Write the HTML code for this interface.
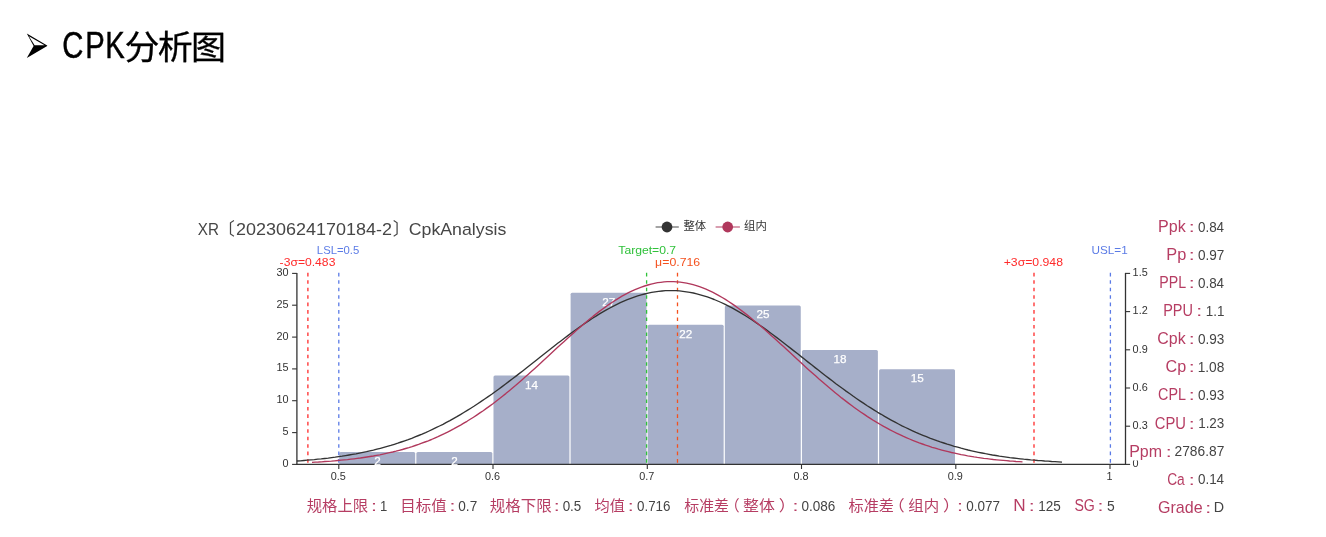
<!DOCTYPE html>
<html lang="zh-CN"><head><meta charset="utf-8"><title>CPK分析图</title>
<style>html,body{margin:0;padding:0;background:#fff;}body{width:1326px;height:537px;overflow:hidden;position:relative;font-family:"Liberation Sans", "Noto Sans CJK SC", sans-serif;}svg{display:block;position:absolute;left:0;top:0;}text{font-family:"Liberation Sans", "Noto Sans CJK SC", sans-serif;}</style></head><body>
<svg width="1326" height="537" viewBox="0 0 1326 537">
<rect width="1326" height="537" fill="#fff"/>
<g id="heading">
<path d="M26.8 33.6 L47.2 45.4 L47.2 46 L26.8 58 L33.6 45.9 Z" fill="#000"/>
<path d="M28.9 36.3 L44.6 45.3 L34.6 45.3 Z" fill="#fff"/>
<g transform="translate(62.2,0) scale(0.805,1)"><text y="58" font-size="36.3" fill="#000" stroke="#000" stroke-width="0.45" x="0 28.6 53.4">CPK</text></g>
<g transform="translate(124.6,0) scale(1.075,1)"><text x="0" y="58.6" font-size="32.6" fill="#000" stroke="#000" stroke-width="0.3" textLength="94.4" lengthAdjust="spacing">分析图</text></g>
</g>
<g id="legend">
<line x1="655.6" y1="227" x2="678.8" y2="227" stroke="#333" stroke-opacity="0.6" stroke-width="1.5"/><circle cx="667" cy="227" r="5.4" fill="#333"/>
<line x1="715.6" y1="227" x2="739.9" y2="227" stroke="#b0385c" stroke-opacity="0.65" stroke-width="1.5"/><circle cx="727.7" cy="227" r="5.4" fill="#b0385c"/>
</g>
<g id="bars" fill="#a6afc9">
<path d="M339.25 464.40 L339.25 453.47 Q339.25 451.97 340.75 451.97 L413.67 451.97 Q415.17 451.97 415.17 453.47 L415.17 464.40 Z"/>
<path d="M416.37 464.40 L416.37 453.47 Q416.37 451.97 417.87 451.97 L490.79 451.97 Q492.29 451.97 492.29 453.47 L492.29 464.40 Z"/>
<path d="M493.49 464.40 L493.49 377.07 Q493.49 375.57 494.99 375.57 L567.91 375.57 Q569.41 375.57 569.41 377.07 L569.41 464.40 Z"/>
<path d="M570.61 464.40 L570.61 294.30 Q570.61 292.80 572.11 292.80 L645.03 292.80 Q646.53 292.80 646.53 294.30 L646.53 464.40 Z"/>
<path d="M647.73 464.40 L647.73 326.13 Q647.73 324.63 649.23 324.63 L722.15 324.63 Q723.65 324.63 723.65 326.13 L723.65 464.40 Z"/>
<path d="M724.85 464.40 L724.85 307.03 Q724.85 305.53 726.35 305.53 L799.27 305.53 Q800.77 305.53 800.77 307.03 L800.77 464.40 Z"/>
<path d="M801.97 464.40 L801.97 351.60 Q801.97 350.10 803.47 350.10 L876.39 350.10 Q877.89 350.10 877.89 351.60 L877.89 464.40 Z"/>
<path d="M879.09 464.40 L879.09 370.70 Q879.09 369.20 880.59 369.20 L953.51 369.20 Q955.01 369.20 955.01 370.70 L955.01 464.40 Z"/>
</g>
<g id="axes" stroke="#333" fill="none">
<line x1="296.9" y1="272.9" x2="296.9" y2="465.0" stroke-width="1.3"/>
<line x1="1125.5" y1="272.9" x2="1125.5" y2="465.0" stroke-width="1.3"/>
<line x1="296.3" y1="464.4" x2="1126.1" y2="464.4" stroke-width="1.3"/>
<line x1="292.1" y1="464.4" x2="296.9" y2="464.4" stroke-width="1.1"/>
<line x1="292.1" y1="432.6" x2="296.9" y2="432.6" stroke-width="1.1"/>
<line x1="292.1" y1="400.7" x2="296.9" y2="400.7" stroke-width="1.1"/>
<line x1="292.1" y1="368.9" x2="296.9" y2="368.9" stroke-width="1.1"/>
<line x1="292.1" y1="337.1" x2="296.9" y2="337.1" stroke-width="1.1"/>
<line x1="292.1" y1="305.2" x2="296.9" y2="305.2" stroke-width="1.1"/>
<line x1="292.1" y1="273.4" x2="296.9" y2="273.4" stroke-width="1.1"/>
<line x1="1125.5" y1="464.4" x2="1130.1" y2="464.4" stroke-width="1.1"/>
<line x1="1125.5" y1="426.2" x2="1130.1" y2="426.2" stroke-width="1.1"/>
<line x1="1125.5" y1="388.0" x2="1130.1" y2="388.0" stroke-width="1.1"/>
<line x1="1125.5" y1="349.8" x2="1130.1" y2="349.8" stroke-width="1.1"/>
<line x1="1125.5" y1="311.6" x2="1130.1" y2="311.6" stroke-width="1.1"/>
<line x1="1125.5" y1="273.4" x2="1130.1" y2="273.4" stroke-width="1.1"/>
<line x1="338.8" y1="464.4" x2="338.8" y2="469.0" stroke-width="1.1"/>
<line x1="493.0" y1="464.4" x2="493.0" y2="469.0" stroke-width="1.1"/>
<line x1="647.3" y1="464.4" x2="647.3" y2="469.0" stroke-width="1.1"/>
<line x1="801.5" y1="464.4" x2="801.5" y2="469.0" stroke-width="1.1"/>
<line x1="955.8" y1="464.4" x2="955.8" y2="469.0" stroke-width="1.1"/>
<line x1="1110.0" y1="464.4" x2="1110.0" y2="469.0" stroke-width="1.1"/>
</g>
<g id="barlabels" fill="#fff" stroke="#fff" stroke-width="0.25" font-size="11.7" text-anchor="middle">
<text x="377.4" y="464.9">2</text>
<text x="454.5" y="464.9">2</text>
<text x="531.6" y="388.5">14</text>
<text x="608.7" y="305.7">27</text>
<text x="685.8" y="337.5">22</text>
<text x="763.0" y="318.4">25</text>
<text x="840.1" y="363.0">18</text>
<text x="917.2" y="382.1">15</text>
</g>
<line x1="307.9" y1="272.8" x2="307.9" y2="464.4" stroke="#ff2a2a" stroke-width="1.3" stroke-dasharray="3.6 3.85"/>
<line x1="338.8" y1="272.8" x2="338.8" y2="464.4" stroke="#5b7be6" stroke-width="1.3" stroke-dasharray="3.6 3.85"/>
<line x1="646.6" y1="272.8" x2="646.6" y2="464.4" stroke="#2fc13a" stroke-width="1.3" stroke-dasharray="3.6 3.85"/>
<line x1="677.5" y1="272.8" x2="677.5" y2="464.4" stroke="#f4511e" stroke-width="1.3" stroke-dasharray="3.6 3.85"/>
<line x1="1034.0" y1="272.8" x2="1034.0" y2="464.4" stroke="#ff2a2a" stroke-width="1.3" stroke-dasharray="3.6 3.85"/>
<line x1="1110.4" y1="272.8" x2="1110.4" y2="464.4" stroke="#5b7be6" stroke-width="1.3" stroke-dasharray="3.6 3.85"/>
<polyline points="296.9,461.0 300.4,460.8 303.9,460.5 307.3,460.2 310.8,459.9 314.3,459.6 317.8,459.2 321.2,458.9 324.7,458.5 328.2,458.1 331.7,457.6 335.2,457.2 338.6,456.7 342.1,456.2 345.6,455.6 349.1,455.0 352.5,454.4 356.0,453.8 359.5,453.1 363.0,452.4 366.5,451.7 369.9,450.9 373.4,450.1 376.9,449.2 380.4,448.3 383.8,447.4 387.3,446.4 390.8,445.4 394.3,444.3 397.8,443.2 401.2,442.0 404.7,440.8 408.2,439.6 411.7,438.3 415.1,436.9 418.6,435.5 422.1,434.1 425.6,432.6 429.1,431.0 432.5,429.4 436.0,427.7 439.5,426.0 443.0,424.3 446.4,422.4 449.9,420.6 453.4,418.6 456.9,416.7 460.4,414.6 463.8,412.5 467.3,410.4 470.8,408.2 474.3,406.0 477.7,403.7 481.2,401.4 484.7,399.0 488.2,396.6 491.7,394.2 495.1,391.7 498.6,389.2 502.1,386.6 505.6,384.0 509.0,381.4 512.5,378.8 516.0,376.1 519.5,373.4 523.0,370.7 526.4,368.0 529.9,365.2 533.4,362.5 536.9,359.7 540.3,357.0 543.8,354.2 547.3,351.5 550.8,348.8 554.3,346.0 557.7,343.3 561.2,340.7 564.7,338.0 568.2,335.4 571.6,332.8 575.1,330.3 578.6,327.8 582.1,325.3 585.6,322.9 589.0,320.6 592.5,318.3 596.0,316.1 599.5,313.9 602.9,311.9 606.4,309.9 609.9,308.0 613.4,306.1 616.9,304.4 620.3,302.7 623.8,301.2 627.3,299.7 630.8,298.4 634.2,297.1 637.7,295.9 641.2,294.9 644.7,294.0 648.2,293.1 651.6,292.4 655.1,291.8 658.6,291.4 662.1,291.0 665.5,290.7 669.0,290.6 672.5,290.6 676.0,290.7 679.5,290.9 682.9,291.3 686.4,291.8 689.9,292.3 693.4,293.0 696.8,293.8 700.3,294.8 703.8,295.8 707.3,296.9 710.7,298.2 714.2,299.5 717.7,301.0 721.2,302.5 724.7,304.1 728.1,305.9 731.6,307.7 735.1,309.6 738.6,311.6 742.0,313.6 745.5,315.8 749.0,318.0 752.5,320.3 756.0,322.6 759.4,325.0 762.9,327.4 766.4,329.9 769.9,332.5 773.3,335.0 776.8,337.6 780.3,340.3 783.8,343.0 787.3,345.7 790.7,348.4 794.2,351.1 797.7,353.8 801.2,356.6 804.6,359.3 808.1,362.1 811.6,364.8 815.1,367.6 818.6,370.3 822.0,373.0 825.5,375.7 829.0,378.4 832.5,381.0 835.9,383.7 839.4,386.3 842.9,388.8 846.4,391.4 849.9,393.8 853.3,396.3 856.8,398.7 860.3,401.1 863.8,403.4 867.2,405.7 870.7,407.9 874.2,410.1 877.7,412.3 881.2,414.3 884.6,416.4 888.1,418.4 891.6,420.3 895.1,422.2 898.5,424.0 902.0,425.8 905.5,427.5 909.0,429.2 912.5,430.8 915.9,432.4 919.4,433.9 922.9,435.3 926.4,436.7 929.8,438.1 933.3,439.4 936.8,440.7 940.3,441.9 943.8,443.0 947.2,444.2 950.7,445.2 954.2,446.3 957.7,447.2 961.1,448.2 964.6,449.1 968.1,450.0 971.6,450.8 975.1,451.6 978.5,452.3 982.0,453.0 985.5,453.7 989.0,454.3 992.4,455.0 995.9,455.5 999.4,456.1 1002.9,456.6 1006.4,457.1 1009.8,457.6 1013.3,458.0 1016.8,458.4 1020.3,458.8 1023.7,459.2 1027.2,459.5 1030.7,459.9 1034.2,460.2 1037.7,460.5 1041.1,460.7 1044.6,461.0 1048.1,461.2 1051.6,461.5 1055.0,461.7 1058.5,461.9 1062.0,462.1" fill="none" stroke="#333" stroke-width="1.35" stroke-linejoin="round"/>
<polyline points="312.0,462.3 315.2,462.1 318.5,462.0 321.7,461.8 324.9,461.5 328.1,461.3 331.4,461.1 334.6,460.8 337.8,460.5 341.1,460.2 344.3,459.9 347.5,459.6 350.8,459.2 354.0,458.8 357.2,458.4 360.4,458.0 363.7,457.5 366.9,457.0 370.1,456.5 373.4,456.0 376.6,455.4 379.8,454.8 383.1,454.1 386.3,453.4 389.5,452.7 392.7,452.0 396.0,451.2 399.2,450.3 402.4,449.5 405.7,448.5 408.9,447.6 412.1,446.6 415.3,445.5 418.6,444.4 421.8,443.2 425.0,442.0 428.3,440.8 431.5,439.5 434.7,438.1 438.0,436.7 441.2,435.2 444.4,433.7 447.6,432.1 450.9,430.4 454.1,428.7 457.3,426.9 460.6,425.1 463.8,423.2 467.0,421.3 470.2,419.3 473.5,417.2 476.7,415.1 479.9,412.9 483.2,410.7 486.4,408.4 489.6,406.1 492.9,403.7 496.1,401.2 499.3,398.7 502.5,396.2 505.8,393.6 509.0,390.9 512.2,388.2 515.5,385.5 518.7,382.7 521.9,379.9 525.1,377.1 528.4,374.2 531.6,371.3 534.8,368.4 538.1,365.4 541.3,362.5 544.5,359.5 547.8,356.5 551.0,353.5 554.2,350.6 557.4,347.6 560.7,344.6 563.9,341.7 567.1,338.7 570.4,335.8 573.6,332.9 576.8,330.1 580.1,327.2 583.3,324.5 586.5,321.7 589.7,319.1 593.0,316.4 596.2,313.9 599.4,311.4 602.7,309.0 605.9,306.6 609.1,304.4 612.3,302.2 615.6,300.1 618.8,298.1 622.0,296.2 625.3,294.4 628.5,292.7 631.7,291.1 635.0,289.7 638.2,288.3 641.4,287.1 644.6,286.0 647.9,285.0 651.1,284.1 654.3,283.4 657.6,282.7 660.8,282.3 664.0,281.9 667.2,281.7 670.5,281.6 673.7,281.6 676.9,281.8 680.2,282.1 683.4,282.6 686.6,283.1 689.9,283.8 693.1,284.7 696.3,285.6 699.5,286.7 702.8,287.9 706.0,289.2 709.2,290.6 712.5,292.2 715.7,293.8 718.9,295.6 722.2,297.5 725.4,299.4 728.6,301.5 731.8,303.6 735.1,305.9 738.3,308.2 741.5,310.6 744.8,313.1 748.0,315.6 751.2,318.2 754.4,320.9 757.7,323.6 760.9,326.3 764.1,329.1 767.4,332.0 770.6,334.9 773.8,337.8 777.1,340.7 780.3,343.7 783.5,346.6 786.7,349.6 790.0,352.6 793.2,355.6 796.4,358.5 799.7,361.5 802.9,364.5 806.1,367.4 809.4,370.4 812.6,373.3 815.8,376.1 819.0,379.0 822.3,381.8 825.5,384.6 828.7,387.3 832.0,390.0 835.2,392.7 838.4,395.3 841.6,397.9 844.9,400.4 848.1,402.9 851.3,405.3 854.6,407.7 857.8,410.0 861.0,412.2 864.3,414.4 867.5,416.6 870.7,418.6 873.9,420.7 877.2,422.6 880.4,424.5 883.6,426.4 886.9,428.1 890.1,429.9 893.3,431.5 896.5,433.2 899.8,434.7 903.0,436.2 906.2,437.6 909.5,439.0 912.7,440.4 915.9,441.6 919.2,442.9 922.4,444.0 925.6,445.2 928.8,446.2 932.1,447.3 935.3,448.2 938.5,449.2 941.8,450.1 945.0,450.9 948.2,451.7 951.5,452.5 954.7,453.2 957.9,453.9 961.1,454.6 964.4,455.2 967.6,455.8 970.8,456.3 974.1,456.9 977.3,457.4 980.5,457.8 983.7,458.3 987.0,458.7 990.2,459.1 993.4,459.5 996.7,459.8 999.9,460.1 1003.1,460.4 1006.4,460.7 1009.6,461.0 1012.8,461.2 1016.0,461.5 1019.3,461.7 1022.5,461.9" fill="none" stroke="#b0385c" stroke-width="1.35" stroke-linejoin="round"/>
<g id="yl" font-size="11.4" fill="#333" text-anchor="end">
<text transform="translate(288.6 466.8) scale(0.955 1)">0</text>
<text transform="translate(288.6 435.0) scale(0.955 1)">5</text>
<text transform="translate(288.6 403.1) scale(0.955 1)">10</text>
<text transform="translate(288.6 371.3) scale(0.955 1)">15</text>
<text transform="translate(288.6 339.5) scale(0.955 1)">20</text>
<text transform="translate(288.6 307.6) scale(0.955 1)">25</text>
<text transform="translate(288.6 275.8) scale(0.955 1)">30</text>
</g>
<g id="yr" font-size="11.4" fill="#333" text-anchor="start">
<text transform="translate(1132.6 467.1) scale(0.955 1)">0</text>
<text transform="translate(1132.6 428.9) scale(0.955 1)">0.3</text>
<text transform="translate(1132.6 390.7) scale(0.955 1)">0.6</text>
<text transform="translate(1132.6 352.5) scale(0.955 1)">0.9</text>
<text transform="translate(1132.6 314.3) scale(0.955 1)">1.2</text>
<text transform="translate(1132.6 276.1) scale(0.955 1)">1.5</text>
</g>
<g id="xl" font-size="11.4" fill="#333" text-anchor="middle">
<text transform="translate(338.3 479.7) scale(0.955 1)">0.5</text>
<text transform="translate(492.5 479.7) scale(0.955 1)">0.6</text>
<text transform="translate(646.8 479.7) scale(0.955 1)">0.7</text>
<text transform="translate(801.0 479.7) scale(0.955 1)">0.8</text>
<text transform="translate(955.3 479.7) scale(0.955 1)">0.9</text>
<text transform="translate(1109.5 479.7) scale(0.955 1)">1</text>
</g>
<rect x="1130.6" y="438" width="95" height="22.4" fill="#fff"/>
<g id="texts">
<text transform="translate(197.76 234.9) scale(0.8747 1)" font-size="17.4" fill="#464646">XR</text>
<text transform="translate(217.55 234.9) scale(1.0000 1)" font-size="17.4" fill="#464646">〔</text>
<text transform="translate(236.02 234.9) scale(1.0338 1)" font-size="17.4" fill="#464646">20230624170184-2</text>
<text transform="translate(392.86 234.9) scale(0.9882 1)" font-size="17.4" fill="#464646">〕</text>
<text transform="translate(408.74 234.9) scale(1.0196 1)" font-size="17.4" fill="#464646">CpkAnalysis</text>
<text transform="translate(683.40 230.4) scale(1.0069 1)" font-size="11.3" fill="#333">整体</text>
<text transform="translate(744.10 230.4) scale(1.0095 1)" font-size="11.3" fill="#333">组内</text>
<text transform="translate(279.58 265.8) scale(1.0310 1)" font-size="11.8" fill="#ff2a2a">-3σ=0.483</text>
<text transform="translate(316.84 253.5) scale(0.9591 1)" font-size="11.8" fill="#5b7be6">LSL=0.5</text>
<text transform="translate(618.34 253.5) scale(1.0317 1)" font-size="11.8" fill="#2fc13a">Target=0.7</text>
<text transform="translate(655.12 265.8) scale(1.0452 1)" font-size="11.8" fill="#f4511e">μ=0.716</text>
<text transform="translate(1003.68 265.8) scale(1.0375 1)" font-size="11.8" fill="#ff2a2a">+3σ=0.948</text>
<text transform="translate(1091.50 253.5) scale(0.9957 1)" font-size="11.8" fill="#5b7be6">USL=1</text>
<text transform="translate(1158.09 231.9) scale(1.0096 1)" font-size="15.9" fill="#b63d63">Ppk</text>
<text transform="translate(1188.83 231.9) scale(1.2500 0.84)" font-size="17.2" fill="#b63d63">:</text>
<text transform="translate(1197.93 231.6) scale(0.9407 1)" font-size="14.3" fill="#444">0.84</text>
<text transform="translate(1166.31 260.0) scale(1.0286 1)" font-size="15.9" fill="#b63d63">Pp</text>
<text transform="translate(1188.83 260.0) scale(1.2500 0.84)" font-size="17.2" fill="#b63d63">:</text>
<text transform="translate(1197.93 259.7) scale(0.9495 1)" font-size="14.3" fill="#444">0.97</text>
<text transform="translate(1159.28 288.1) scale(0.8920 1)" font-size="15.9" fill="#b63d63">PPL</text>
<text transform="translate(1188.83 288.1) scale(1.2500 0.84)" font-size="17.2" fill="#b63d63">:</text>
<text transform="translate(1197.93 287.8) scale(0.9407 1)" font-size="14.3" fill="#444">0.84</text>
<text transform="translate(1163.16 316.1) scale(0.9124 1)" font-size="15.9" fill="#b63d63">PPU</text>
<text transform="translate(1196.23 316.1) scale(1.2500 0.84)" font-size="17.2" fill="#b63d63">:</text>
<text transform="translate(1205.76 315.8) scale(0.9370 1)" font-size="14.3" fill="#444">1.1</text>
<text transform="translate(1157.30 344.2) scale(1.0018 1)" font-size="15.9" fill="#b63d63">Cpk</text>
<text transform="translate(1188.83 344.2) scale(1.2500 0.84)" font-size="17.2" fill="#b63d63">:</text>
<text transform="translate(1197.93 343.9) scale(0.9495 1)" font-size="14.3" fill="#444">0.93</text>
<text transform="translate(1165.54 372.3) scale(1.0158 1)" font-size="15.9" fill="#b63d63">Cp</text>
<text transform="translate(1188.83 372.3) scale(1.2500 0.84)" font-size="17.2" fill="#b63d63">:</text>
<text transform="translate(1197.64 372.0) scale(0.9600 1)" font-size="14.3" fill="#444">1.08</text>
<text transform="translate(1158.02 400.4) scale(0.9042 1)" font-size="15.9" fill="#b63d63">CPL</text>
<text transform="translate(1188.83 400.4) scale(1.2500 0.84)" font-size="17.2" fill="#b63d63">:</text>
<text transform="translate(1197.93 400.1) scale(0.9495 1)" font-size="14.3" fill="#444">0.93</text>
<text transform="translate(1154.80 428.5) scale(0.9302 1)" font-size="15.9" fill="#b63d63">CPU</text>
<text transform="translate(1188.83 428.5) scale(1.2500 0.84)" font-size="17.2" fill="#b63d63">:</text>
<text transform="translate(1198.16 428.2) scale(0.9410 1)" font-size="14.3" fill="#444">1.23</text>
<text transform="translate(1129.14 456.5) scale(1.0066 1)" font-size="15.9" fill="#b63d63">Ppm</text>
<text transform="translate(1165.73 456.5) scale(1.2500 0.84)" font-size="17.2" fill="#b63d63">:</text>
<text transform="translate(1174.58 456.2) scale(0.9632 1)" font-size="14.3" fill="#444">2786.87</text>
<text transform="translate(1167.15 484.6) scale(0.8667 1)" font-size="15.9" fill="#b63d63">Ca</text>
<text transform="translate(1188.83 484.6) scale(1.2500 0.84)" font-size="17.2" fill="#b63d63">:</text>
<text transform="translate(1197.93 484.3) scale(0.9407 1)" font-size="14.3" fill="#444">0.14</text>
<text transform="translate(1158.04 512.7) scale(1.0105 1)" font-size="15.9" fill="#b63d63">Grade</text>
<text transform="translate(1205.28 512.7) scale(1.2500 0.84)" font-size="17.2" fill="#b63d63">:</text>
<text transform="translate(1213.85 512.4) scale(1.0000 1)" font-size="14.3" fill="#444">D</text>
<text transform="translate(306.75 511.1) scale(1.0059 1)" font-size="15.3" fill="#b63d63">规格上限</text>
<text transform="translate(370.88 511.1) scale(1.2500 0.84)" font-size="17.2" fill="#b63d63">:</text>
<text transform="translate(380.06 511.1) scale(0.9200 1)" font-size="14.2" fill="#444">1</text>
<text transform="translate(400.37 511.1) scale(1.0105 1)" font-size="15.3" fill="#b63d63">目标值</text>
<text transform="translate(449.48 511.1) scale(1.2500 0.84)" font-size="17.2" fill="#b63d63">:</text>
<text transform="translate(458.32 511.1) scale(0.9568 1)" font-size="14.2" fill="#444">0.7</text>
<text transform="translate(489.84 511.1) scale(1.0092 1)" font-size="15.3" fill="#b63d63">规格下限</text>
<text transform="translate(553.78 511.1) scale(1.2500 0.84)" font-size="17.2" fill="#b63d63">:</text>
<text transform="translate(562.63 511.1) scale(0.9440 1)" font-size="14.2" fill="#444">0.5</text>
<text transform="translate(594.40 511.1) scale(0.9966 1)" font-size="15.3" fill="#b63d63">均值</text>
<text transform="translate(627.73 511.1) scale(1.2500 0.84)" font-size="17.2" fill="#b63d63">:</text>
<text transform="translate(637.03 511.1) scale(0.9420 1)" font-size="14.2" fill="#444">0.716</text>
<text transform="translate(684.21 511.1) scale(0.9775 1)" font-size="15.3" fill="#b63d63">标准差</text>
<text transform="translate(724.86 511.1) scale(0.9750 1)" font-size="15.3" fill="#b63d63">（</text>
<text transform="translate(743.12 511.1) scale(1.0393 1)" font-size="15.3" fill="#b63d63">整体</text>
<text transform="translate(778.77 511.1) scale(1.1000 1)" font-size="15.3" fill="#b63d63">）</text>
<text transform="translate(792.53 511.1) scale(1.2500 0.84)" font-size="17.2" fill="#b63d63">:</text>
<text transform="translate(801.52 511.1) scale(0.9536 1)" font-size="14.2" fill="#444">0.086</text>
<text transform="translate(848.50 511.1) scale(0.9910 1)" font-size="15.3" fill="#b63d63">标准差</text>
<text transform="translate(888.31 511.1) scale(1.0750 1)" font-size="15.3" fill="#b63d63">（</text>
<text transform="translate(908.24 511.1) scale(1.0105 1)" font-size="15.3" fill="#b63d63">组内</text>
<text transform="translate(942.93 511.1) scale(1.1000 1)" font-size="15.3" fill="#b63d63">）</text>
<text transform="translate(956.93 511.1) scale(1.2500 0.84)" font-size="17.2" fill="#b63d63">:</text>
<text transform="translate(966.23 511.1) scale(0.9489 1)" font-size="14.2" fill="#444">0.077</text>
<text transform="translate(1013.36 511.1) scale(1.1000 1)" font-size="15.6" fill="#b63d63">N</text>
<text transform="translate(1028.63 511.1) scale(1.2500 0.84)" font-size="17.2" fill="#b63d63">:</text>
<text transform="translate(1038.25 511.1) scale(0.9545 1)" font-size="14.2" fill="#444">125</text>
<text transform="translate(1074.42 511.1) scale(0.9073 1)" font-size="15.6" fill="#b63d63">SG</text>
<text transform="translate(1097.53 511.1) scale(1.2500 0.84)" font-size="17.2" fill="#b63d63">:</text>
<text transform="translate(1107.01 511.1) scale(0.9778 1)" font-size="14.2" fill="#444">5</text>
</g>
</svg></body></html>
